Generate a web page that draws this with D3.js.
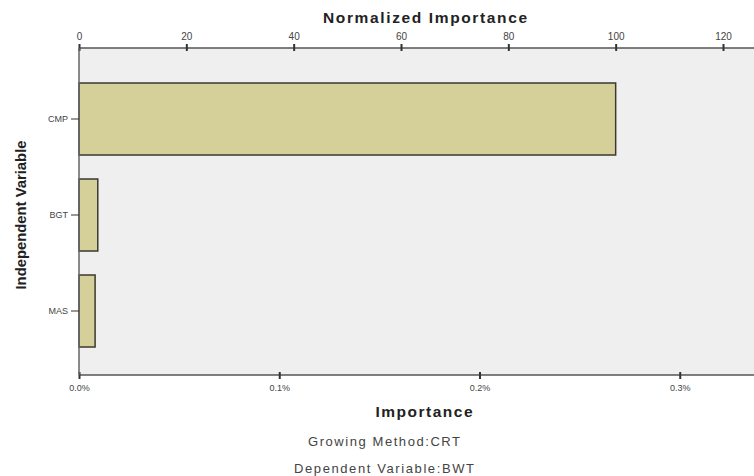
<!DOCTYPE html>
<html><head><meta charset="utf-8">
<script src="https://cdn.jsdelivr.net/npm/d3@7"></script>
<style>
body{margin:0;background:#fff;}
text{font-family:"Liberation Sans",Arial,sans-serif;}
</style></head>
<body><svg id="c" width="754" height="476"></svg>
<script>
const categories = ["CMP", "BGT", "MAS"];
const normalizedImportance = [100, 3.5, 3.0];
const maxImportancePct = 0.268; // importance (%) of the top variable
const topTicks = [0, 20, 40, 60, 80, 100, 120];
const bottomTicks = [0, 0.1, 0.2, 0.3];
const bottomTickLabels = ["0.0%", "0.1%", "0.2%", "0.3%"];
const footnotes = ["Growing Method:CRT", "Dependent Variable:BWT"];

const svg = d3.select("#c");
const L = 79, T = 48, B = 375, R = 767;
const x = d3.scaleLinear().domain([0, 120]).range([L, 723]);
const xImp = d3.scaleLinear().domain([0, maxImportancePct * 120 / 100]).range([L, 723]);
const y = d3.scaleBand().domain(categories).range([71, 359]).paddingInner(0.25).paddingOuter(0.125);

svg.append("rect").attr("x", L).attr("y", T).attr("width", R - L).attr("height", B - T).attr("fill", "#efefef");

svg.selectAll(".bar").data(categories).enter().append("rect")
  .attr("x", x(0)).attr("y", d => y(d))
  .attr("width", (d, i) => x(normalizedImportance[i]) - x(0))
  .attr("height", y.bandwidth())
  .attr("fill", "#d5cf99").attr("stroke", "#3a3a30").attr("stroke-width", 1.5);

// top axis
const topAx = svg.append("g").attr("transform", `translate(0,${T})`)
  .call(d3.axisTop(x).tickValues(topTicks).tickSize(4).tickPadding(4));
topAx.select(".domain").attr("stroke", "#555").attr("stroke-width", 1.5).attr("d", `M${L},0H${R}`);
topAx.selectAll(".tick line").attr("stroke", "#333").attr("stroke-width", 2).attr("y1", 3).attr("y2", -4);
topAx.selectAll("text").attr("font-size", 10).attr("fill", "#444");

// bottom axis
const botAx = svg.append("g").attr("transform", `translate(0,${B})`)
  .call(d3.axisBottom(xImp).tickValues(bottomTicks).tickFormat((d, i) => bottomTickLabels[i]).tickSize(4).tickPadding(6));
botAx.select(".domain").attr("stroke", "#555").attr("stroke-width", 1.5).attr("d", `M${L},0H${R}`);
botAx.selectAll(".tick line").attr("stroke", "#333").attr("stroke-width", 2).attr("y1", -3).attr("y2", 4);
botAx.selectAll("text").attr("font-size", 9).attr("fill", "#444");

// left axis
const leftAx = svg.append("g").attr("transform", `translate(${L},0)`)
  .call(d3.axisLeft(y).tickSize(8).tickPadding(3));
leftAx.select(".domain").attr("stroke", "#666").attr("stroke-width", 1.5).attr("d", `M0,${T}V${B}`);
leftAx.selectAll(".tick line").attr("stroke", "#333");
leftAx.selectAll("text").attr("font-size", 9).attr("fill", "#444");

// titles
svg.append("text").attr("x", 425).attr("y", 23).attr("text-anchor", "middle")
  .attr("font-size", 15.5).attr("font-weight", "bold").attr("fill", "#222")
  .attr("textLength", 204).attr("lengthAdjust", "spacing").text("Normalized Importance");
svg.append("text").attr("x", 424).attr("y", 417).attr("text-anchor", "middle")
  .attr("font-size", 15.5).attr("font-weight", "bold").attr("fill", "#222")
  .attr("textLength", 97).attr("lengthAdjust", "spacing").text("Importance");
svg.append("text").attr("transform", "translate(26,215) rotate(-90)").attr("text-anchor", "middle")
  .attr("font-size", 14).attr("font-weight", "bold").attr("fill", "#222")
  .attr("textLength", 149).attr("lengthAdjust", "spacingAndGlyphs").text("Independent Variable");
const footLens = [152, 180];
svg.selectAll(".foot").data(footnotes).enter().append("text")
  .attr("x", 384).attr("y", (d, i) => 446 + i * 27).attr("text-anchor", "middle")
  .attr("font-size", 13).attr("fill", "#444")
  .attr("textLength", (d, i) => footLens[i]).attr("lengthAdjust", "spacing").text(d => d);
</script></body></html>
